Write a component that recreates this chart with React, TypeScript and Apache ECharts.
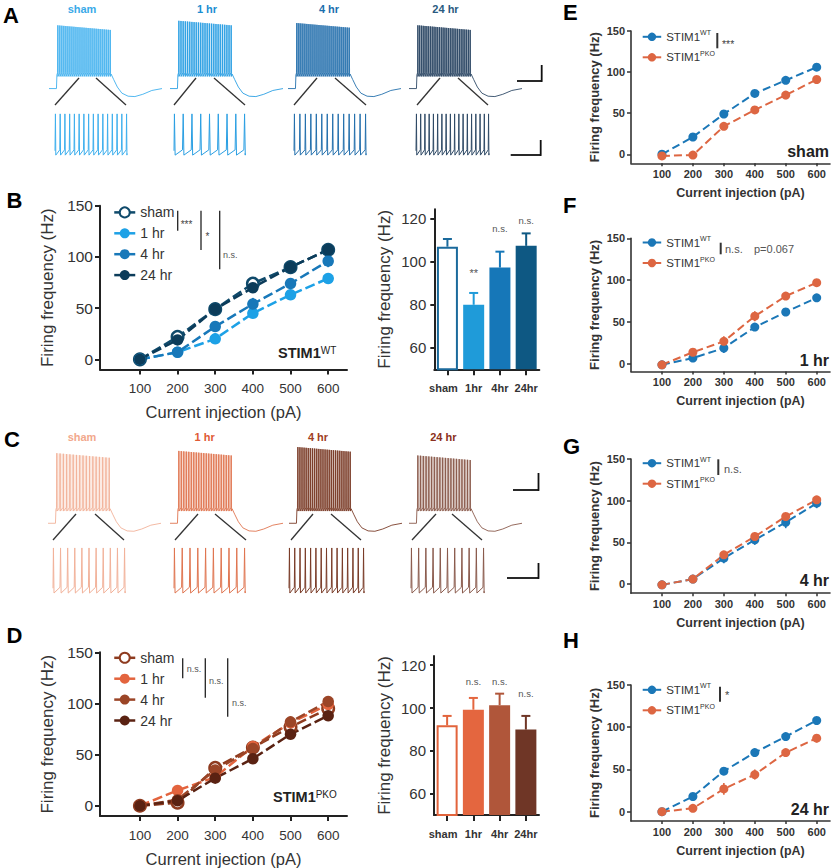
import React, { useEffect, useRef } from "react";
import * as echarts from "echarts";

const FONT = "'Liberation Sans', Arial, Helvetica, sans-serif";

// ===== Data =====
const currents = [100, 200, 300, 400, 500, 600];
const currentTicks = [100, 200, 300, 400, 500, 600];
const freqTicks = [0, 50, 100, 150];
const barTicks = [60, 80, 100, 120];
const groupNames = ["sham", "1 hr", "4 hr", "24 hr"];
const barCategories = ["sham", "1hr", "4hr", "24hr"];

// Panel B (STIM1 WT)
const bSham = [0, 22, 49, 74, 90, 107];
const b1hr = [0, 7, 20, 45, 63, 79];
const b4hr = [0, 7, 32, 54, 74, 96];
const b24hr = [0, 19, 49, 70, 90, 107];
const bShamErr = [1, 2, 3, 3, 3, 4];
const b1hrErr = [1, 2, 5, 3, 3, 4];
const b4hrErr = [1, 2, 5, 6, 5, 6];
const b24hrErr = [1, 3, 4, 4, 3, 4];
const bBarMean = [107, 80, 97.3, 107.4];
const bBarErr = [3.6, 5.5, 7.4, 5.8];
const bBarSig = ["", "**", "n.s.", "n.s."];
const bBarSigAt = [0, 95, 115.7, 119.1];

// Panel D (STIM1 PKO)
const dSham = [0, 3, 37, 57, 77, 95];
const d1hr = [0, 15, 28, 58, 81, 99];
const d4hr = [0, 6, 35, 56, 82, 102];
const d24hr = [0, 5, 27, 46, 70, 88];
const dShamErr = [1, 2, 3, 3, 3, 4];
const d1hrErr = [1, 4, 4, 4, 4, 4];
const d4hrErr = [1, 2, 4, 4, 4, 5];
const d24hrErr = [1, 2, 4, 5, 4, 5];
const dBarMean = [91.9, 99.2, 101.3, 89.9];
const dBarErr = [4.4, 5.5, 5.4, 6.4];
const dBarSig = ["", "n.s.", "n.s.", "n.s."];
const dBarSigAt = [0, 112.3, 112.3, 106.9];

// Panels E-H (WT vs PKO)
const eWT = [0, 21, 49, 74, 90, 106];
const eKO = [-2, -1, 34, 54, 72, 91];
const eWTErr = [1, 2, 3, 3, 3, 3];
const eKOErr = [1, 1, 3, 3, 5, 3];
const fWT = [-1, 7, 19, 44, 62, 79];
const fKO = [-1, 14, 27, 57, 81, 97];
const fWTErr = [1, 2, 6, 3, 3, 3];
const fKOErr = [1, 2, 6, 6, 3, 3];
const gWT = [-1, 6, 31, 53, 74, 97];
const gKO = [-1, 6, 35, 57, 81, 101];
const gWTErr = [1, 2, 6, 6, 7, 6];
const gKOErr = [1, 1, 4, 5, 4, 4];
const hWT = [0, 18, 48, 70, 89, 108];
const hKO = [0, 4, 27, 44, 70, 87];
const hWTErr = [1, 2, 4, 3, 3, 4];
const hKOErr = [1, 1, 7, 6, 4, 5];

// Example traces (spike counts / peak mV)
const wtTraceSpikes = [27, 25, 27, 30];
const wtTracePeak = [18, 24, 21, 18];
const wtZoomSpikes = [16, 9, 14, 18];
const koTraceSpikes = [17, 22, 26, 20];
const koTracePeak = [27, 30, 35, 24];
const koZoomSpikes = [11, 10, 15, 11];
const traceTail = [
  [550, -46], [572, -53], [605, -63], [645, -71], [700, -75],
  [760, -75.5], [830, -72.5], [910, -67.5], [1000, -65],
];

// ===== helpers =====
function fullTrace(n: number, peak: number) {
  const pts: number[][] = [[0, -65], [66, -65], [70, -47]];
  const s0 = 78, s1 = 542;
  for (let i = 0; i < n; i++) {
    const s = s0 + ((s1 - s0) * i) / (n - 1);
    const pk = peak - (6 * i) / (n - 1);
    pts.push([s - 1.5, -44], [s, pk], [s + 1.5, -49]);
  }
  traceTail.forEach((p) => pts.push(p));
  return pts;
}
function fullEnvelope(peak: number) {
  return [[70, -49], [74, peak], [544, peak - 6], [550, -49]];
}
function zoomTrace(n: number) {
  const pts: number[][] = [[0, -54]];
  const s0 = 6, s1 = 994;
  const P = (s1 - s0) / (n - 1);
  for (let i = 0; i < n; i++) {
    const s = s0 + P * i;
    pts.push([s, 30], [s + 0.08 * P, -64]);
    if (i < n - 1) pts.push([s + 0.92 * P, -52]);
  }
  pts.push([1000, -60]);
  return pts;
}

function buildOption() {
  const grids: any[] = [];
  const xAxes: any[] = [];
  const yAxes: any[] = [];
  const series: any[] = [];
  const legends: any[] = [];
  const graphic: any[] = [];

  const addGrid = (g: any, x: any, y: any) => {
    const idx = grids.length;
    grids.push({ ...g, containLabel: false });
    xAxes.push({ ...x, gridIndex: idx });
    yAxes.push({ ...y, gridIndex: idx });
    return idx;
  };

  // ---------- traces ----------
  const hiddenX = { type: "value", min: 0, max: 1000, show: false };
  const traceSeries = (gi: number, pts: number[][], env: number[][] | null, stroke: string, fill: string, op: number, lw: number) => ({
    type: "custom",
    xAxisIndex: gi,
    yAxisIndex: gi,
    silent: true,
    clip: false,
    data: [[0, 0]],
    renderItem: (_p: any, api: any) => {
      const children: any[] = [];
      if (env) {
        children.push({
          type: "polygon",
          shape: { points: env.map((p) => api.coord(p)) },
          style: { fill, opacity: op },
        });
      }
      children.push({
        type: "polyline",
        shape: { points: pts.map((p) => api.coord(p)) },
        style: { stroke, fill: null, lineWidth: lw },
      });
      return { type: "group", children };
    },
  });

  const wtTraceColors = ["#3fb0ee", "#2a9fe3", "#2470ad", "#2f4a66"];
  const wtFillColors = ["#8fd0f5", "#7fc4ee", "#5a8cbf", "#6d8298"];
  const koTraceColors = ["#f2b29a", "#e07550", "#7a3c28", "#8a5a4c"];
  const koFillColors = ["#f8d3c4", "#eeaa92", "#a47565", "#bc9d94"];
  const wtLabelColors = ["#3aaae8", "#1c8fd2", "#1a6fae", "#2a5a80"];
  const koLabelColors = ["#f2a88c", "#e05a35", "#a0401e", "#8a3020"];

  const aFullLeft = [49, 170, 288, 409];
  const cFullLeft = [48, 170, 289, 409];
  const aZoomLeft = [55, 174, 294, 416];
  const aZoomW = [72, 71, 72, 73];
  const cZoomLeft = [53, 174, 289, 411];
  const cZoomW = [72, 71, 75, 73];

  for (let i = 0; i < 4; i++) {
    let gi = addGrid({ left: aFullLeft[i], top: 8.6, width: 113, height: 91.4 }, hiddenX, { type: "value", min: -80, max: 40, show: false });
    series.push(traceSeries(gi, fullTrace(wtTraceSpikes[i], wtTracePeak[i]), fullEnvelope(wtTracePeak[i]), wtTraceColors[i], wtFillColors[i], i >= 2 ? 0.5 : 0.45, 0.9));
    gi = addGrid({ left: aZoomLeft[i], top: 113, width: aZoomW[i], height: 43 }, hiddenX, { type: "value", min: -66, max: 32, show: false });
    series.push(traceSeries(gi, zoomTrace(wtZoomSpikes[i]), null, wtTraceColors[i], "", 0, 1));
    gi = addGrid({ left: cFullLeft[i], top: 443.3, width: 113, height: 91.4 }, hiddenX, { type: "value", min: -80, max: 40, show: false });
    series.push(traceSeries(gi, fullTrace(koTraceSpikes[i], koTracePeak[i]), fullEnvelope(koTracePeak[i]), koTraceColors[i], koFillColors[i], i >= 2 ? 0.5 : 0.45, 0.9));
    gi = addGrid({ left: cZoomLeft[i], top: 547, width: cZoomW[i], height: 47 }, hiddenX, { type: "value", min: -66, max: 32, show: false });
    series.push(traceSeries(gi, zoomTrace(koZoomSpikes[i]), null, koTraceColors[i], "", 0, 1));
  }

  // ---------- line panels ----------
  const errSeries = (gi: number, values: number[], errs: number[], color: string, lw: number) => ({
    type: "custom",
    xAxisIndex: gi,
    yAxisIndex: gi,
    silent: true,
    z: 2,
    data: currents.map((c, i) => [c, values[i], errs[i]]),
    renderItem: (_p: any, api: any) => {
      const x = api.value(0), y = api.value(1), e = api.value(2);
      const a = api.coord([x, y - e]);
      const b = api.coord([x, y + e]);
      return {
        type: "line",
        shape: { x1: a[0], y1: a[1], x2: b[0], y2: b[1] },
        style: { stroke: color, lineWidth: lw },
      };
    },
  });

  const lineSeries = (gi: number, name: string, values: number[], color: string, open: boolean, size: number, lw: number, dash: number[]) => ({
    type: "line",
    name,
    xAxisIndex: gi,
    yAxisIndex: gi,
    data: currents.map((c, i) => [c, values[i]]),
    symbol: "circle",
    symbolSize: size,
    showSymbol: true,
    z: 3,
    silent: true,
    lineStyle: { color, width: lw, type: dash },
    itemStyle: open ? { color: "#ffffff", borderColor: color, borderWidth: 2.5 } : { color, borderWidth: 0 },
    emphasis: { disabled: true },
  });

  const bigXAxis = (name: string) => ({
    type: "value",
    min: -6,
    max: 650,
    axisLine: { show: true, onZero: false, lineStyle: { color: "#222", width: 2 } },
    axisTick: { show: true, customValues: currentTicks, length: 5, lineStyle: { color: "#222", width: 2 } },
    axisLabel: { customValues: currentTicks, margin: 12, fontSize: 13.5, color: "#333", fontFamily: FONT },
    splitLine: { show: false },
    name,
    nameLocation: "middle",
    nameGap: 34,
    nameTextStyle: { fontSize: 16.5, color: "#333", fontFamily: FONT },
  });
  const bigYAxis = () => ({
    type: "value",
    min: -10,
    max: 150,
    axisLine: { show: true, onZero: false, lineStyle: { color: "#222", width: 2 } },
    axisTick: { show: true, customValues: freqTicks, length: 5, lineStyle: { color: "#222", width: 2 } },
    axisLabel: { customValues: freqTicks, margin: 7, fontSize: 15.5, color: "#333", fontFamily: FONT },
    splitLine: { show: false },
    name: "Firing frequency (Hz)",
    nameLocation: "middle",
    nameGap: 44,
    nameTextStyle: { fontSize: 17, color: "#333", fontFamily: FONT },
  });

  // Panel B
  const bColors = ["#0f4a6b", "#1da1e6", "#1878b9", "#0c3c5a"];
  const bVals = [bSham, b1hr, b4hr, b24hr];
  const bErrs = [bShamErr, b1hrErr, b4hrErr, b24hrErr];
  const gB = addGrid({ left: 100, top: 205.7, width: 247, height: 163.9 }, bigXAxis("Current injection (pA)"), bigYAxis());
  for (let i = 0; i < 4; i++) series.push(errSeries(gB, bVals[i], bErrs[i], bColors[i], 2));
  for (let i = 0; i < 4; i++) series.push(lineSeries(gB, "B:" + groupNames[i], bVals[i], bColors[i], i === 0, 11.5, 2.5, [10, 4]));

  // Panel D
  const dColors = ["#8e3b1f", "#e3643e", "#9b4527", "#5a2212"];
  const dVals = [dSham, d1hr, d4hr, d24hr];
  const dErrs = [dShamErr, d1hrErr, d4hrErr, d24hrErr];
  const gD = addGrid({ left: 100, top: 652.3, width: 247, height: 163.7 }, bigXAxis("Current injection (pA)"), bigYAxis());
  for (let i = 0; i < 4; i++) series.push(errSeries(gD, dVals[i], dErrs[i], dColors[i], 2));
  for (let i = 0; i < 4; i++) series.push(lineSeries(gD, "D:" + groupNames[i], dVals[i], dColors[i], i === 0, 11.5, 2.5, [10, 4]));

  const bigLegend = (names: string[], top: number) => ({
    left: 113,
    top,
    orient: "vertical",
    padding: 0,
    selectedMode: false,
    itemWidth: 21,
    itemHeight: 12.5,
    itemGap: 6.9,
    data: names,
    formatter: (n: string) => n.slice(2),
    textStyle: { fontFamily: FONT, fontSize: 14, color: "#333" },
    lineStyle: { type: "solid", width: 2.5 },
  });
  legends.push(bigLegend(groupNames.map((g) => "B:" + g), 205.4));
  legends.push(bigLegend(groupNames.map((g) => "D:" + g), 650.8));

  // ---------- bar panels ----------
  const barPanel = (left: number, top: number, height: number, max: number, means: number[], errs: number[], sig: string[], sigAt: number[], colors: string[]) => {
    const gi = addGrid(
      { left, top, width: 105, height },
      {
        type: "category",
        data: barCategories,
        boundaryGap: true,
        axisLine: { show: true, lineStyle: { color: "#222", width: 2 } },
        axisTick: { show: true, alignWithLabel: true, length: 6, lineStyle: { color: "#222", width: 2 } },
        axisLabel: {
          margin: 13,
          fontSize: 11,
          fontWeight: "bold",
          color: "#333",
          fontFamily: FONT,
          interval: 0,
          formatter: (v: string) => (v === "sham" ? "{s|sham}" : v),
          rich: { s: { fontSize: 11, fontWeight: "bold", color: "#333", fontFamily: FONT, padding: [0, 8, 0, 0] } },
        },
      },
      {
        type: "value",
        min: 50,
        max,
        axisLine: { show: true, onZero: false, lineStyle: { color: "#222", width: 2 } },
        axisTick: { show: true, customValues: barTicks, length: 4, lineStyle: { color: "#222", width: 2 } },
        axisLabel: { customValues: barTicks, margin: 8, fontSize: 15, color: "#333", fontFamily: FONT },
        splitLine: { show: false },
        name: "Firing frequency (Hz)",
        nameLocation: "middle",
        nameGap: 41,
        nameTextStyle: { fontSize: 17, color: "#333", fontFamily: FONT },
      }
    );
    series.push({
      type: "custom",
      xAxisIndex: gi,
      yAxisIndex: gi,
      silent: true,
      z: 1,
      data: means.map((m, i) => [i, m, errs[i], sigAt[i]]),
      renderItem: (p: any, api: any) => {
        const i = p.dataIndex;
        const a = api.coord([api.value(0), api.value(1)]);
        const b = api.coord([api.value(0), api.value(1) + api.value(2)]);
        const children: any[] = [
          { type: "line", shape: { x1: a[0], y1: a[1], x2: b[0], y2: b[1] }, style: { stroke: colors[i], lineWidth: 2 } },
          { type: "line", shape: { x1: b[0] - 4.5, y1: b[1], x2: b[0] + 4.5, y2: b[1] }, style: { stroke: colors[i], lineWidth: 2 } },
        ];
        if (sig[i]) {
          const s = api.coord([api.value(0), api.value(3)]);
          children.push({
            type: "text",
            x: s[0],
            y: s[1],
            style: { text: sig[i], fill: "#555", fontSize: sig[i] === "**" ? 11 : 9.5, fontFamily: FONT, align: "center", verticalAlign: "middle" },
          });
        }
        return { type: "group", children };
      },
    });
    series.push({
      type: "bar",
      xAxisIndex: gi,
      yAxisIndex: gi,
      barWidth: 21,
      silent: true,
      z: 2,
      data: means.map((m, i) => ({
        value: m,
        itemStyle: i === 0 ? { color: "#ffffff", borderColor: colors[0], borderWidth: 2 } : { color: colors[i] },
      })),
    });
  };
  barPanel(434.3, 209.3, 160, 124.4, bBarMean, bBarErr, bBarSig, bBarSigAt, ["#1b6a9c", "#1f9bd9", "#1677b8", "#0e5883"]);
  barPanel(434, 656, 159, 124.3, dBarMean, dBarErr, dBarSig, dBarSigAt, ["#e2643c", "#e4663f", "#b0563a", "#6f3626"]);

  // ---------- E-H ----------
  const WT = "#1b77b7", KO = "#dd6642";
  const smallPanels = [
    { key: "E", top: 31, height: 132.3, ymin: -11, wt: eWT, ko: eKO, wtE: eWTErr, koE: eKOErr, legTop: 29.3 },
    { key: "F", top: 238.3, height: 133.2, ymin: -9, wt: fWT, ko: fKO, wtE: fWTErr, koE: fKOErr, legTop: 235 },
    { key: "G", top: 459, height: 134.2, ymin: -11, wt: gWT, ko: gKO, wtE: gWTErr, koE: gKOErr, legTop: 455.7 },
    { key: "H", top: 685, height: 136, ymin: -11, wt: hWT, ko: hKO, wtE: hWTErr, koE: hKOErr, legTop: 682.3 },
  ];
  smallPanels.forEach((sp) => {
    const gi = addGrid(
      { left: 631, top: sp.top, width: 199, height: sp.height },
      {
        type: "value",
        min: 0,
        max: 643,
        axisLine: { show: true, onZero: false, lineStyle: { color: "#333", width: 1.6 } },
        axisTick: { show: true, customValues: currentTicks, length: 3, lineStyle: { color: "#333", width: 1.5 } },
        axisLabel: { customValues: currentTicks, margin: 5, fontSize: 11, fontWeight: "bold", color: "#333", fontFamily: FONT },
        splitLine: { show: false },
        name: "Current injection (pA)",
        nameLocation: "middle",
        nameGap: 23,
        nameTextStyle: { fontSize: 12.5, fontWeight: "bold", color: "#333", fontFamily: FONT, padding: [0, 0, 0, 20] },
      },
      {
        type: "value",
        min: sp.ymin,
        max: 150,
        axisLine: { show: true, onZero: false, lineStyle: { color: "#333", width: 1.6 } },
        axisTick: { show: true, customValues: freqTicks, length: 4, lineStyle: { color: "#333", width: 1.5 } },
        axisLabel: { customValues: freqTicks, margin: 6, fontSize: 11, fontWeight: "bold", color: "#333", fontFamily: FONT },
        splitLine: { show: false },
        name: "Firing frequency (Hz)",
        nameLocation: "middle",
        nameGap: 30.5,
        nameTextStyle: { fontSize: 13, fontWeight: "bold", color: "#333", fontFamily: FONT },
      }
    );
    series.push(errSeries(gi, sp.wt, sp.wtE, WT, 1.6));
    series.push(errSeries(gi, sp.ko, sp.koE, KO, 1.6));
    series.push(lineSeries(gi, sp.key + ":WT", sp.wt, WT, false, 9, 2, [8, 4]));
    series.push(lineSeries(gi, sp.key + ":KO", sp.ko, KO, false, 9, 2, [8, 4]));
    legends.push({
      left: 641.7,
      top: sp.legTop,
      orient: "vertical",
      padding: 0,
      selectedMode: false,
      itemWidth: 18.5,
      itemHeight: 10.5,
      itemGap: 5.5,
      data: [sp.key + ":WT", sp.key + ":KO"],
      formatter: (n: string) => (n.endsWith("WT") ? "STIM1{sup|WT}" : "STIM1{sup|PKO}"),
      textStyle: {
        fontFamily: FONT,
        fontSize: 11.5,
        color: "#333",
        lineHeight: 15,
        rich: { sup: { fontSize: 7, lineHeight: 8, verticalAlign: "top", color: "#333", fontFamily: FONT } },
      },
      lineStyle: { type: "solid", width: 2 },
    });
  });

  // ---------- annotations ----------
  const text = (x: number, y: number, t: string, o: any = {}) => ({
    type: "text",
    x,
    y,
    silent: true,
    style: {
      text: t,
      fontFamily: FONT,
      fontSize: o.size || 11,
      fontWeight: o.weight || "normal",
      fill: o.color || "#333",
      align: o.align || "left",
      verticalAlign: "middle",
      rich: o.rich,
    },
  });
  const line = (x1: number, y1: number, x2: number, y2: number, w = 1.3, c = "#222") => ({
    type: "line",
    silent: true,
    shape: { x1, y1, x2, y2 },
    style: { stroke: c, lineWidth: w },
  });

  [["A", 3, 15], ["B", 6.5, 200], ["C", 4, 439.5], ["D", 6.5, 635.5], ["E", 563, 12.5], ["F", 563, 205], ["G", 563, 446], ["H", 563, 640]].forEach(
    ([l, x, y]: any) => graphic.push(text(x, y, l, { size: 22, weight: "bold", color: "#000" }))
  );

  const aLabelX = [82, 207, 329, 445.5];
  const cLabelX = [82, 204.7, 318, 443.3];
  for (let i = 0; i < 4; i++) {
    graphic.push(text(aLabelX[i], 8.5, groupNames[i], { size: 11, weight: "bold", color: wtLabelColors[i], align: "center" }));
    graphic.push(text(cLabelX[i], 437, groupNames[i], { size: 11, weight: "bold", color: koLabelColors[i], align: "center" }));
  }

  const connA = [[79, 78, 55, 105], [96, 78, 126, 105], [196, 78, 174, 105], [214, 78, 245, 105], [317, 78, 294, 105], [335, 78, 366, 105], [440, 78, 417, 105], [458, 78, 488, 105]];
  const connC = [[76, 514, 53, 540], [95, 514, 124, 540], [198, 514, 175, 540], [215, 514, 246, 540], [313, 514, 291, 540], [331, 514, 361, 540], [436, 514, 412, 540], [452, 514, 482, 540]];
  connA.concat(connC).forEach((c) => graphic.push(line(c[0], c[1], c[2], c[3], 1.3, "#333")));

  graphic.push(line(517, 81, 542, 81, 1.8, "#111"), line(541.7, 65, 541.7, 81.9, 1.8, "#111"));
  graphic.push(line(510.7, 155, 541, 155, 1.8, "#111"), line(540.7, 140, 540.7, 155.9, 1.8, "#111"));
  graphic.push(line(513, 490, 539, 490, 1.8, "#111"), line(538.5, 473, 538.5, 490.9, 1.8, "#111"));
  graphic.push(line(507, 578, 539, 578, 1.8, "#111"), line(538.5, 563, 538.5, 578.9, 1.8, "#111"));

  graphic.push(line(177.7, 210.7, 177.7, 230.7), line(201, 210.7, 201, 250), line(219.7, 210.7, 219.7, 269.3));
  graphic.push(text(180.7, 224.5, "***", { size: 10, color: "#444" }), text(205.5, 236.5, "*", { size: 10, color: "#444" }), text(223, 255, "n.s.", { size: 9, color: "#555" }));
  graphic.push(line(182.7, 658.3, 182.7, 678.3), line(205.3, 658.3, 205.3, 697.7), line(227.7, 658.3, 227.7, 716.7));
  graphic.push(text(186.7, 669, "n.s.", { size: 9, color: "#555" }), text(209, 681, "n.s.", { size: 9, color: "#555" }), text(232, 703.3, "n.s.", { size: 9, color: "#555" }));

  const supRich = { sup: { fontSize: 10, lineHeight: 10, verticalAlign: "top", fontWeight: "normal", fill: "#222", color: "#222", fontFamily: FONT } };
  graphic.push(text(278, 353, "STIM1{sup|WT}", { size: 14.5, weight: "bold", color: "#222", rich: supRich }));
  graphic.push(text(273, 797, "STIM1{sup|PKO}", { size: 14.5, weight: "bold", color: "#222", rich: supRich }));

  graphic.push(line(717.3, 33, 717.3, 48.3, 2, "#333"), text(722, 44, "***", { size: 10.5, color: "#444" }));
  graphic.push(line(720.7, 242.7, 720.7, 254.3, 2, "#333"), text(725, 248.5, "n.s.", { size: 11, color: "#555" }), text(754, 248.5, "p=0.067", { size: 11, color: "#555" }));
  graphic.push(line(718.3, 459.3, 718.3, 475, 2, "#333"), text(724, 469, "n.s.", { size: 11, color: "#555" }));
  graphic.push(line(720, 686.7, 720, 701.7, 2, "#333"), text(725, 695, "*", { size: 11, color: "#444" }));
  [["sham", 151.7], ["1 hr", 360], ["4 hr", 580.7], ["24 hr", 809]].forEach(([t, y]: any) =>
    graphic.push(text(829, y, t, { size: 16, weight: "bold", color: "#222", align: "right" }))
  );

  return {
    animation: false,
    backgroundColor: "#ffffff",
    textStyle: { fontFamily: FONT },
    grid: grids,
    xAxis: xAxes,
    yAxis: yAxes,
    legend: legends,
    series,
    graphic,
  };
}

export default function App() {
  const ref = useRef<HTMLDivElement>(null);
  useEffect(() => {
    const chart = echarts.init(ref.current as HTMLDivElement, null, { renderer: "svg" });
    chart.setOption(buildOption() as any);
    return () => chart.dispose();
  }, []);
  return (
    <div
      ref={ref}
      style={{ position: "absolute", left: 0, top: 0, width: 837, height: 868, background: "#fff" }}
    />
  );
}
